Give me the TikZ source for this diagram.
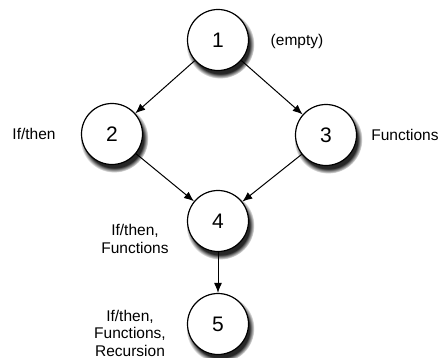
\documentclass[tikz,border=0pt]{standalone}
\usepackage{fontspec}
\setmainfont{Liberation Sans}
\usetikzlibrary{arrows.meta,shadows}
\begin{document}
\begin{tikzpicture}[x=1pt,y=-1pt,
  state/.style={circle,draw=black,line width=1.2pt,fill=white,minimum size=61pt,inner sep=0pt,
    font=\fontsize{21}{24}\selectfont,
    circular drop shadow={shadow xshift=2pt,shadow yshift=-4pt,shadow scale=1.12,fill=black!85,opacity=1}},
  lbl/.style={font=\fontsize{15.5}{17.5}\selectfont,align=center,inner sep=0pt},
  conn/.style={line width=1pt,-{Latex[length=10pt,width=8pt]}}]
\useasboundingbox (0,0) rectangle (442,358);
\node[state] (n1) at (218,40) {1};
\node[state] (n2) at (112,134) {2};
\node[state] (n3) at (326,135) {3};
\node[state] (n4) at (218,221) {4};
\node[state] (n5) at (218,324) {5};
\node[lbl] (l1) at (297,41) {(empty)};
\node[lbl] (l2) at (34,134) {If/then};
\node[lbl] (l3) at (405,135) {Functions};
\node[lbl] (l4) at (135,239) {If/then,\\Functions};
\node[lbl] (l5) at (130,333) {If/then,\\Functions,\\Recursion};
\draw[conn] (n1) -- (n2);
\draw[conn] (n1) -- (n3);
\draw[conn] (n2) -- (n4);
\draw[conn] (n3) -- (n4);
\draw[conn] (n4) -- (n5);
\end{tikzpicture}
\end{document}
